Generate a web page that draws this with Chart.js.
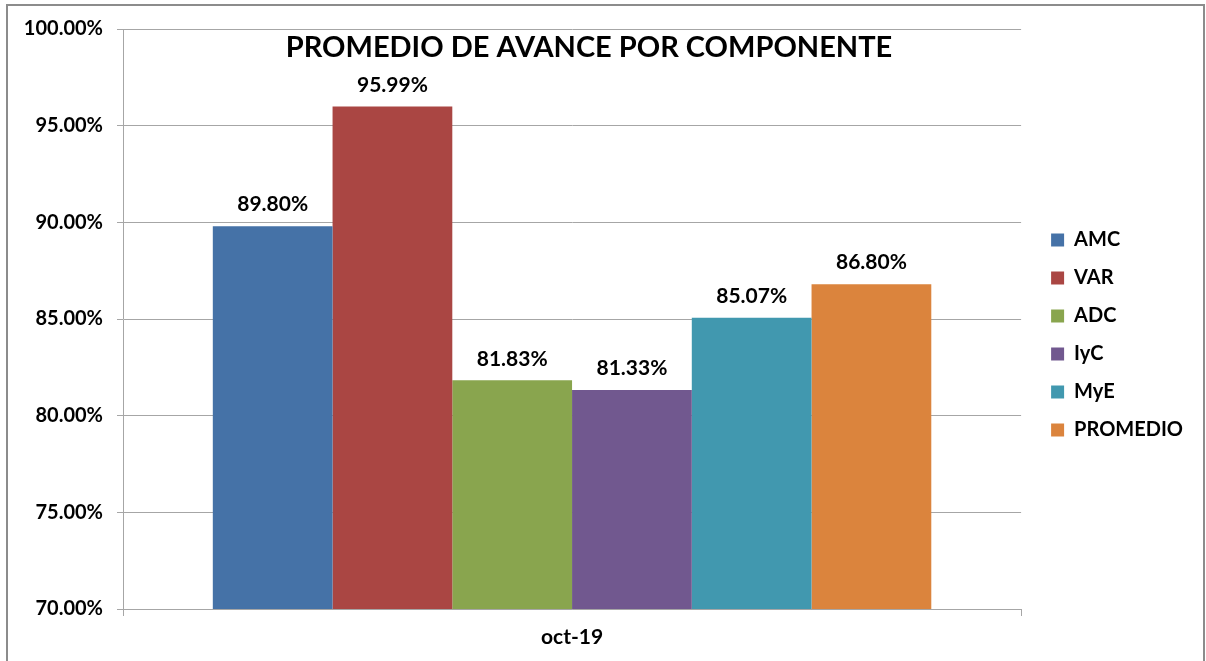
<!DOCTYPE html>
<html>
<head>
<meta charset="utf-8">
<script src="https://cdn.jsdelivr.net/npm/chart.js@4/dist/chart.umd.min.js"></script>
<style>
    body { margin: 0; background: #fff; }
    #frame {
        position: absolute; left: 6px; top: 4px; width: 1195px; height: 670px;
        border: 2px solid #8c8c8c; border-bottom: none;
    }
    #wrap { position: absolute; left: 0; top: 0; width: 1206px; height: 661px; }
</style>
</head>
<body>
<div id="frame"></div>
<div id="wrap"><canvas id="avanceChart"></canvas></div>
<script>
// Datos del grafico
const categories = ['oct-19'];
const seriesNames = ['AMC', 'VAR', 'ADC', 'IyC', 'MyE', 'PROMEDIO'];
const seriesValues = [89.80, 95.99, 81.83, 81.33, 85.07, 86.80];
const seriesColors = ['#4572A7', '#AA4643', '#89A54E', '#71588F', '#4198AF', '#DB843D'];
const yTicks = [70, 75, 80, 85, 90, 95, 100];
const chartTitle = 'PROMEDIO DE AVANCE POR COMPONENTE';

const FONT = 'Lato, "Liberation Sans", sans-serif';

// etiquetas de valor sobre cada barra + titulo dentro del area
const valueLabels = {
    id: 'valueLabels',
    afterDatasetsDraw(chart) {
        const ctx = chart.ctx;
        ctx.save();
        ctx.fillStyle = '#000';
        ctx.font = 'bold 21px ' + FONT;
        ctx.textAlign = 'center';
        ctx.textBaseline = 'bottom';
        chart.data.datasets.forEach((ds, i) => {
            const meta = chart.getDatasetMeta(i);
            meta.data.forEach((bar, j) => {
                ctx.fillText(ds.data[j].toFixed(2) + '%', bar.x, bar.y - 11);
            });
        });
        ctx.font = 'bold 29px ' + FONT;
        ctx.textBaseline = 'middle';
        ctx.fillText(chartTitle, 589, 48);
        ctx.restore();
    }
};

const ctx = document.getElementById('avanceChart').getContext('2d');
new Chart(ctx, {
    type: 'bar',
    data: {
        labels: categories,
        datasets: seriesNames.map((name, i) => ({
            label: name,
            data: [seriesValues[i]],
            backgroundColor: seriesColors[i],
            categoryPercentage: 0.8,
            barPercentage: 1.0
        }))
    },
    options: {
        responsive: true,
        maintainAspectRatio: false,
        animation: false,
        layout: {
            padding: { top: 29, left: 10, right: 13, bottom: 0 }
        },
        plugins: {
            legend: {
                position: 'right',
                fullSize: false,
                // titulo vacio solo para bajar un poco los items
                title: { display: true, text: ' ', padding: 4, font: { size: 20 } },
                labels: {
                    boxWidth: 13,
                    boxHeight: 13,
                    padding: 18,
                    color: '#000',
                    font: { family: FONT, size: 20, weight: 'bold' }
                }
            },
            tooltip: { enabled: false }
        },
        scales: {
            x: {
                grid: {
                    offset: true,
                    drawOnChartArea: false,
                    drawTicks: true,
                    tickLength: 7,
                    color: '#a6a6a6'
                },
                border: { color: '#a6a6a6' },
                ticks: {
                    color: '#000',
                    padding: 9,
                    font: { family: FONT, size: 21, weight: 'bold' }
                },
                afterFit(scale) { scale.height = 52; }
            },
            y: {
                min: 70,
                max: 100,
                afterBuildTicks(scale) {
                    scale.ticks = yTicks.map(v => ({ value: v }));
                },
                grid: {
                    color: '#a6a6a6',
                    tickLength: 6
                },
                border: { color: '#a6a6a6' },
                ticks: {
                    color: '#000',
                    padding: 14,
                    font: { family: FONT, size: 20, weight: 'bold' },
                    callback: v => v.toFixed(2) + '%'
                },
                afterFit(scale) { scale.width = 113; }
            },
            // eje vacio, solo deja espacio entre el grafico y la leyenda
            gap: {
                type: 'linear',
                position: 'right',
                grid: { display: false },
                border: { display: false },
                ticks: { display: false },
                afterFit(scale) { scale.width = 12; }
            }
        }
    },
    plugins: [valueLabels]
});
</script>
</body>
</html>
